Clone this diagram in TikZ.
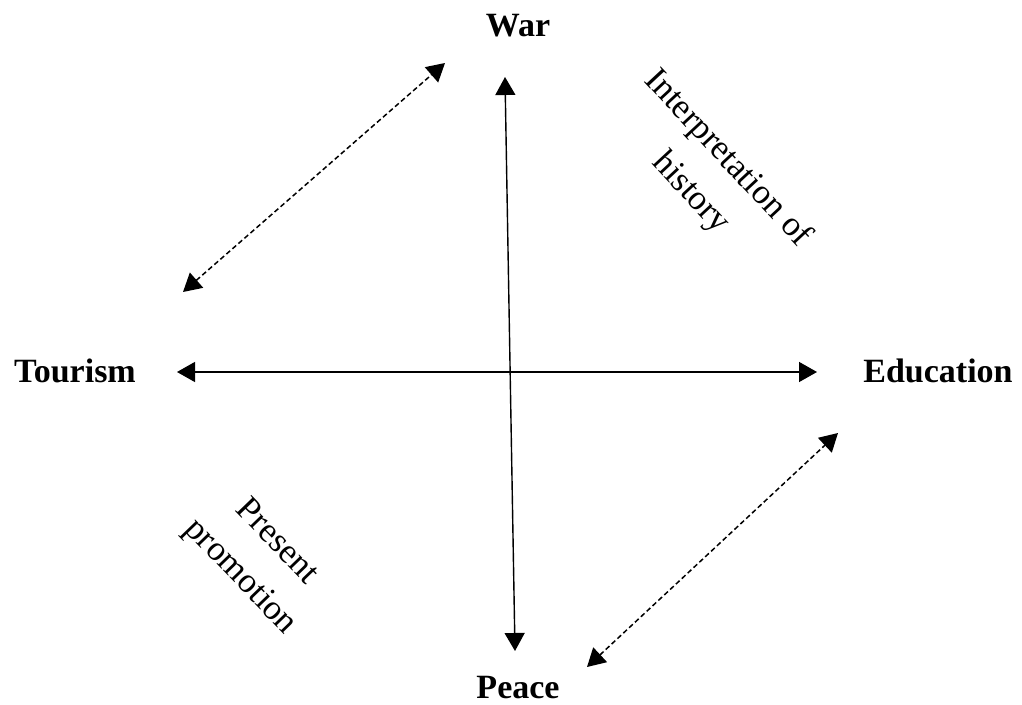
\documentclass[tikz,border=0pt]{standalone}
\usepackage{fontspec}
\setmainfont{Liberation Serif}
\usetikzlibrary{arrows.meta,positioning}

\begin{document}
\begin{tikzpicture}[
    x=0.5pt, y=-0.5pt,
    pole/.style={font=\fontsize{17}{20}\selectfont\bfseries, anchor=base},
    note/.style={font=\fontsize{17.5}{25}\selectfont, align=center},
    arrow/.style={{Triangle[length=9pt,width=10pt]}-{Triangle[length=9pt,width=10pt]}, line width=0.7pt},
    dasharrow/.style={arrow, dash pattern=on 2.5pt off 1.5pt, line width=0.75pt}
]
\useasboundingbox (0,0) rectangle (1022,705);

\node[pole] (war) at (518,37) {War};
\node[pole] (peace) at (518,698) {Peace};
\node[pole] (tourism) at (75,383) {Tourism};
\node[pole] (education) at (938,383) {Education};

\node[note, rotate=-47] (history) at (709,176) {Interpretation of\\history};
\node[note, rotate=-46] (promotion) at (258,560) {Present\\promotion};

% arrow ends
\coordinate (wartip) at (505,77);
\coordinate (peacetip) at (515,651);
\coordinate (tourismtip) at (177,372);
\coordinate (educationtip) at (817,372);
\coordinate (dashA1) at (183,292);
\coordinate (dashA2) at (445,63);
\coordinate (dashB1) at (587,667);
\coordinate (dashB2) at (838,433);

\draw[arrow] (wartip) -- (peacetip);
\draw[arrow] (tourismtip) -- (educationtip);
\draw[dasharrow] (dashA1) -- (dashA2);
\draw[dasharrow] (dashB1) -- (dashB2);

\end{tikzpicture}
\end{document}
